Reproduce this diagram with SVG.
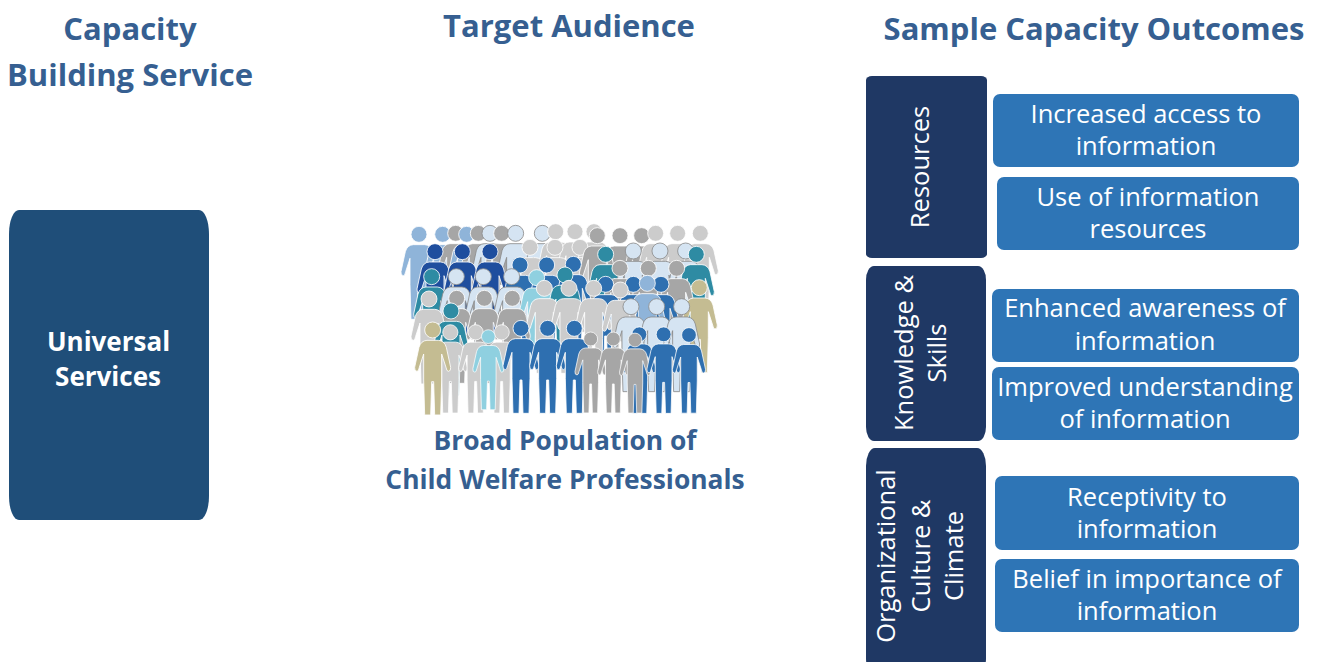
<svg xmlns="http://www.w3.org/2000/svg" width="1317" height="662" viewBox="0 0 1317 662">
<style>
text{font-family:"Open Sans","Noto Sans","Liberation Sans",sans-serif}
.h{font-size:31px;font-weight:700;fill:#365f91;text-anchor:middle}
.c{font-size:26.4px;font-weight:700;fill:#365f91;text-anchor:middle}
.u{font-size:26px;font-weight:700;fill:#fff;text-anchor:middle}
.o{font-size:25.5px;fill:#fff;text-anchor:middle}
.s{font-size:25.5px;fill:#fff;text-anchor:middle}
.dark{fill:#1f3864}
.item{fill:#2e75b6}
use{stroke:#fff;stroke-width:2.5}
.ga{fill:#a6a6a6}.gb{fill:#cccccc}.lb{fill:#8fb4d9}.pb{fill:#d5e4f2;stroke:#8c8c8c}.db{fill:#1f4e9e}.mb{fill:#2e6fb0}.te{fill:#2e8ba3}.cy{fill:#8fd0e0}.ta{fill:#c4bc92}
</style>
<defs>
<g id="p"><circle r="24"/><path d="M-17 31H17Q35 32 41 52L54 112Q55 124 47 124Q42 124 40 112L27 72V150L24 255H6L3 155H-3L-6 255H-24L-27 150V72L-40 112Q-42 124-47 124Q-55 124-54 112L-41 52Q-35 32-17 31Z"/></g>
</defs>
<g id="heading-capacity"><text class="h" x="130" y="40">Capacity</text><text class="h" x="130" y="86">Building Service</text></g>
<g id="heading-audience"><text class="h" x="569" y="37">Target Audience</text></g>
<g id="heading-outcomes"><text class="h" x="1094" y="40">Sample Capacity Outcomes</text></g>
<g id="universal"><rect x="9" y="210" width="200" height="310" rx="10" ry="24" fill="#1f4e79"/><text class="u" x="108.500" y="351">Universal</text><text class="u" x="108" y="386">Services</text></g>
<g id="crowd" transform="translate(395 215) scale(.3333)">
<use href="#p" class="lb" x="72" y="58"/><use href="#p" class="lb" x="143" y="58"/><use href="#p" class="ga" x="182" y="55"/><use href="#p" class="lb" x="215" y="58"/><use href="#p" class="ga" x="250" y="55"/><use href="#p" class="pb" x="285" y="55"/><use href="#p" class="ga" x="320" y="55"/><use href="#p" class="pb" x="362" y="55"/><use href="#p" class="pb" x="442" y="55"/><use href="#p" class="gb" x="482" y="50"/><use href="#p" class="gb" x="540" y="50"/><use href="#p" class="gb" x="597" y="50"/><use href="#p" class="ga" x="675" y="62"/><use href="#p" class="ga" x="740" y="62"/><use href="#p" class="gb" x="782" y="55"/><use href="#p" class="gb" x="848" y="55"/><use href="#p" class="gb" x="916" y="55"/>
<use href="#p" class="db" x="120" y="110"/><use href="#p" class="db" x="202" y="110"/><use href="#p" class="db" x="285" y="110"/><use href="#p" class="gb" x="405" y="97"/><use href="#p" class="gb" x="480" y="97"/><use href="#p" class="gb" x="555" y="97"/><use href="#p" class="ga" x="607" y="62"/><use href="#p" class="te" x="632" y="118"/><use href="#p" class="pb" x="715" y="108"/><use href="#p" class="pb" x="795" y="108"/><use href="#p" class="pb" x="872" y="108"/><use href="#p" class="te" x="904" y="118"/>
<use href="#p" class="mb" x="375" y="150"/><use href="#p" class="mb" x="455" y="150"/><use href="#p" class="mb" x="535" y="148"/><use href="#p" class="ga" x="675" y="160"/><use href="#p" class="ga" x="760" y="160"/><use href="#p" class="ga" x="845" y="160"/>
<use href="#p" class="te" x="110" y="185"/><use href="#p" class="pb" x="184" y="185"/><use href="#p" class="pb" x="265" y="185"/><use href="#p" class="pb" x="350" y="185"/><use href="#p" class="cy" x="425" y="188"/><use href="#p" class="te" x="510" y="180"/><use href="#p" class="mb" x="632" y="208"/><use href="#p" class="mb" x="715" y="208"/><use href="#p" class="mb" x="798" y="208"/><use href="#p" class="lb" x="757" y="205"/><use href="#p" class="ta" x="913" y="218"/>
<use href="#p" class="ga" x="185" y="250"/><use href="#p" class="ga" x="268" y="250"/><use href="#p" class="ga" x="352" y="250"/><use href="#p" class="gb" x="448" y="220"/><use href="#p" class="gb" x="522" y="220"/><use href="#p" class="gb" x="596" y="220"/><use href="#p" class="gb" x="676" y="225"/><use href="#p" class="gb" x="102" y="252"/><use href="#p" class="te" x="168" y="288"/><use href="#p" class="pb" x="708" y="275"/><use href="#p" class="pb" x="785" y="275"/><use href="#p" class="pb" x="860" y="275"/>
<use href="#p" class="gb" transform="translate(166 352) scale(.95)"/><use href="#p" class="gb" transform="translate(242 352) scale(.95)"/><use href="#p" class="gb" transform="translate(320 352) scale(.95)"/><use href="#p" class="mb" transform="translate(733 358) scale(.93)"/><use href="#p" class="ta" x="113" y="345"/><use href="#p" class="cy" transform="translate(280 365) scale(.86)"/><use href="#p" class="mb" x="378" y="340"/><use href="#p" class="mb" x="458" y="340"/><use href="#p" class="mb" x="538" y="340"/><use href="#p" class="ga" transform="translate(587 372) scale(.87)"/><use href="#p" class="ga" transform="translate(655 372) scale(.87)"/><use href="#p" class="ga" transform="translate(720 375) scale(.86)"/><use href="#p" class="mb" transform="translate(806 358) scale(.93)"/><use href="#p" class="mb" transform="translate(882 360) scale(.92)"/>
</g>
<g id="crowd-label"><text class="c" x="565" y="450">Broad Population of</text><text class="c" x="565" y="489">Child Welfare Professionals</text></g>
<g id="resources"><rect class="dark" x="866" y="76" width="121" height="182" rx="6" ry="4"/><text class="s" transform="translate(929 167) rotate(-90)">Resources</text></g>
<g id="knowledge"><rect class="dark" x="866" y="266" width="120" height="175" rx="8" ry="14"/><text class="s" transform="translate(913 353) rotate(-90)">Knowledge &amp;</text><text class="s" transform="translate(946 353) rotate(-90)">Skills</text></g>
<g id="culture"><rect class="dark" x="866" y="448" width="120" height="228" rx="9" ry="18"/><text class="s" transform="translate(895 556) rotate(-90)">Organizational</text><text class="s" transform="translate(930 556) rotate(-90)">Culture &amp;</text><text class="s" transform="translate(963 556) rotate(-90)">Climate</text></g>
<g id="o1"><rect class="item" x="993" y="94" width="306" height="73" rx="7"/><text class="o" x="1146" y="123">Increased access to</text><text class="o" x="1146" y="155">information</text></g>
<g id="o2"><rect class="item" x="997" y="177" width="302" height="73" rx="7"/><text class="o" x="1148" y="206">Use of information</text><text class="o" x="1148" y="238">resources</text></g>
<g id="o3"><rect class="item" x="992" y="289" width="307" height="73" rx="7"/><text class="o" x="1145" y="317">Enhanced awareness of</text><text class="o" x="1145" y="350">information</text></g>
<g id="o4"><rect class="item" x="992" y="367" width="307" height="73" rx="7"/><text class="o" x="1145" y="396">Improved understanding</text><text class="o" x="1145" y="428">of information</text></g>
<g id="o5"><rect class="item" x="995" y="476" width="304" height="74" rx="7"/><text class="o" x="1147" y="506">Receptivity to</text><text class="o" x="1147" y="538">information</text></g>
<g id="o6"><rect class="item" x="995" y="559" width="304" height="73" rx="7"/><text class="o" x="1147" y="588">Belief in importance of</text><text class="o" x="1147" y="620">information</text></g>
<g id="connectors"/>
</svg>
